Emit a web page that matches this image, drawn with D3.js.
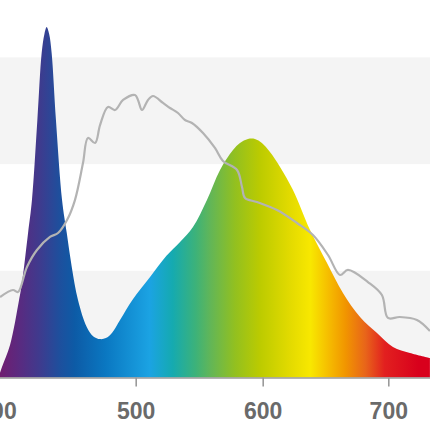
<!DOCTYPE html>
<html>
<head>
<meta charset="utf-8">
<script src="https://cdn.jsdelivr.net/npm/d3@7"></script>
<style>
  html, body { margin: 0; padding: 0; background: #ffffff; }
  svg { display: block; }
</style>
</head>
<body>
<svg id="chart" width="430" height="430"></svg>
<script>
// ---- data ----
const axisTicks = [400, 500, 600, 700];
const bandRanges = [[0, 1], [2, 3]];

// LED emission spectrum (wavelength nm, relative intensity)
const spectrumNm = [401.0, 403.6, 409.4, 415.9, 418.0, 422.4, 425.2, 429.1, 432.2, 434.2, 435.8, 437.6, 439.4, 442.5, 446.9, 450.3, 453.9, 458.4, 464.7, 469.5, 474.3, 478.5, 483.0, 488.7, 498.1, 511.3, 524.2, 534.9, 545.1, 556.1, 566.4, 576.6, 582.1, 588.4, 593.9, 599.4, 605.8, 613.8, 624.1, 637.7, 651.2, 663.9, 677.5, 691.0, 703.7, 717.2, 733.1];
const spectrumVal = [0, 0.098, 0.305, 0.726, 0.886, 1.354, 1.663, 2.413, 3.041, 3.22, 3.285, 3.22, 3.041, 2.413, 1.663, 1.354, 1.036, 0.726, 0.473, 0.385, 0.36, 0.37, 0.42, 0.539, 0.736, 0.942, 1.14, 1.27, 1.41, 1.663, 1.945, 2.132, 2.198, 2.236, 2.236, 2.198, 2.113, 1.973, 1.757, 1.382, 1.073, 0.792, 0.567, 0.417, 0.286, 0.23, 0.183];

// reference spectrum (gray line)
const refNm = [402.2, 411.5, 415.1, 421.6, 428.8, 438.2, 444.0, 450.5, 456.2, 462.0, 465.6, 470.7, 474.3, 480.0, 485.1, 490.9, 499.5, 501.8, 505.0, 509.7, 513.6, 521.5, 527.0, 533.3, 538.8, 544.3, 553.0, 562.4, 568.7, 579.8, 583.7, 586.1, 595.5, 611.4, 627.3, 640.0, 652.0, 661.6, 667.9, 683.8, 694.9, 699.7, 709.2, 722.8, 733.1];
const refVal = [0.754, 0.82, 0.801, 1.036, 1.195, 1.317, 1.354, 1.476, 1.663, 2.01, 2.245, 2.198, 2.366, 2.535, 2.507, 2.601, 2.648, 2.601, 2.507, 2.601, 2.638, 2.573, 2.526, 2.479, 2.413, 2.385, 2.291, 2.151, 2.029, 1.945, 1.785, 1.682, 1.645, 1.57, 1.448, 1.335, 1.148, 0.961, 1.008, 0.895, 0.773, 0.558, 0.567, 0.539, 0.436];

// gradient colours by wavelength
const gradNm = [402, 416, 431, 445, 456, 478, 511, 529, 547, 559, 578, 598, 624, 638, 654, 666, 682, 697, 724];
const gradColor = ["#701d70", "#5a2a80", "#3e3b8e", "#1e4f9d", "#0d5ba6", "#0a77c1", "#1ba3e3", "#15aab0", "#3cb27a", "#62b657", "#92c020", "#bccb00", "#e6dc00", "#f8e800", "#f5b800", "#f19500", "#e8641a", "#e2201f", "#d8001c"];

// ---- chart ----
const svg = d3.select("#chart");
const W = 430, H = 430;

const x = d3.scaleLinear()
  .domain([400, 500, 600, 700, 800])
  .range([-3, 135.7, 262.7, 388.3, 514]);
const y = d3.scaleLinear().domain([0, 3]).range([377.5, 57.4]);

// background bands
svg.append("g").selectAll("rect")
  .data(bandRanges)
  .join("rect")
  .attr("x", 0)
  .attr("width", W)
  .attr("y", d => y(d[1]))
  .attr("height", d => y(d[0]) - y(d[1]))
  .attr("fill", "#f4f4f4");

// gradient
const defs = svg.append("defs");
const grad = defs.append("linearGradient")
  .attr("id", "spec")
  .attr("gradientUnits", "userSpaceOnUse")
  .attr("x1", 0).attr("x2", W).attr("y1", 0).attr("y2", 0);
grad.selectAll("stop")
  .data(gradNm.map((n, i) => ({ n, c: gradColor[i] })))
  .join("stop")
  .attr("offset", d => Math.max(0, Math.min(1, x(d.n) / W)))
  .attr("stop-color", d => d.c);

const specData = spectrumNm.map((n, i) => [n, spectrumVal[i]]);
const refData = refNm.map((n, i) => [n, refVal[i]]);

const area = d3.area()
  .x(d => x(d[0]))
  .y0(y(0))
  .y1(d => y(d[1]))
  .curve(d3.curveCatmullRom.alpha(0.5));

svg.append("path")
  .datum(specData)
  .attr("d", area)
  .attr("fill", "url(#spec)");

const line = d3.line()
  .x(d => x(d[0]))
  .y(d => y(d[1]))
  .curve(d3.curveCatmullRom.alpha(0.5));

svg.append("path")
  .datum(refData)
  .attr("d", line)
  .attr("fill", "none")
  .attr("stroke", "#b3b3b3")
  .attr("stroke-width", 2.2)
  .attr("stroke-linejoin", "round");

// axis
const axis = d3.axisBottom(x)
  .tickValues(axisTicks)
  .tickSizeInner(9)
  .tickSizeOuter(0)
  .tickPadding(16)
  .tickFormat(d3.format("d"));

const gx = svg.append("g")
  .attr("transform", `translate(0,${y(0)})`)
  .call(axis);
gx.select(".domain").attr("stroke", "#9a9a9a").attr("stroke-width", 1.6);
gx.selectAll(".tick line").attr("stroke", "#9a9a9a").attr("stroke-width", 1.6);
gx.selectAll(".tick text")
  .attr("fill", "#6a6a6a")
  .style("font-family", "'Liberation Sans', Arial, sans-serif")
  .style("font-size", "23px")
  .style("font-weight", "bold");
</script>
</body>
</html>
